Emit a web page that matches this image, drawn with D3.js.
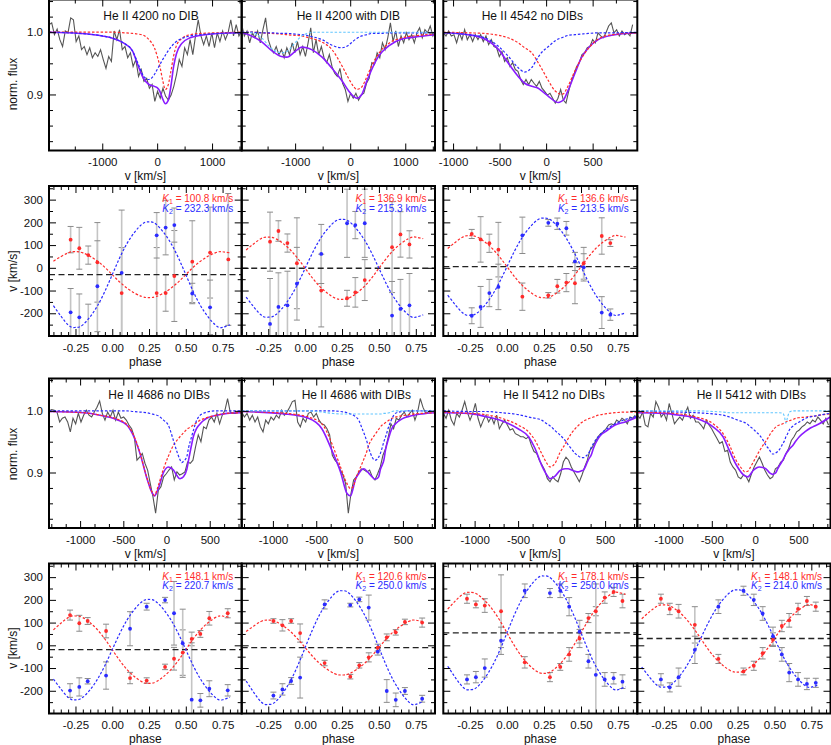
<!DOCTYPE html>
<html><head><meta charset="utf-8">
<script src="https://cdn.jsdelivr.net/npm/d3@7"></script>
<style>body{margin:0;background:#fff}</style>
</head><body>
<svg id="c" width="831" height="745"></svg>
<script>
// ---------------- DATA ----------------
// Spectrum panels: observed normalised flux (evenly sampled between the given velocity limits)
const obs4200a_range = [-1970, 1539];
const obs4200a = [1.012,1.015,0.996,1.005,0.988,0.977,1.002,0.999,1.023,1.020,0.985,0.994,0.972,0.977,0.964,0.975,0.959,0.967,0.961,0.972,0.956,0.942,0.961,0.953,1.002,0.988,1.004,0.972,0.977,0.959,0.967,0.945,0.956,0.929,0.940,0.921,0.926,0.910,0.916,0.889,0.905,0.894,0.910,0.897,0.891,0.899,0.913,0.932,0.956,0.945,0.975,0.964,0.988,0.964,0.994,1.020,0.994,0.980,0.994,0.977,0.999,0.975,0.999,0.985,1.002,0.988,0.999,1.020,0.994,1.012,0.994,1.002];
const obs4200b_range = [-1970, 1550];
const obs4200b = [1.012,0.994,1.002,0.983,0.999,0.991,1.002,0.983,1.004,1.023,0.988,0.975,0.967,0.977,0.964,0.972,0.959,0.975,0.964,0.983,0.967,0.985,0.964,0.977,0.961,0.983,1.007,0.967,0.988,0.964,0.977,0.959,0.951,0.964,0.945,0.934,0.929,0.942,0.918,0.908,0.889,0.902,0.894,0.902,0.891,0.899,0.902,0.918,0.926,0.951,0.948,0.967,0.959,0.983,0.972,0.991,1.015,0.985,1.002,0.977,0.994,0.983,0.999,0.988,0.996,0.983,0.999,1.007,0.991,1.004,0.999,1.010,0.994,1.002];
const obs4542_range = [-1105, 930];
const obs4542 = [0.999,0.994,1.002,0.994,0.996,0.983,0.999,0.988,1.004,0.988,0.996,0.985,0.996,0.988,0.996,0.985,0.994,0.980,0.988,0.977,0.975,0.961,0.969,0.953,0.959,0.945,0.951,0.940,0.937,0.924,0.916,0.924,0.916,0.924,0.918,0.913,0.921,0.910,0.905,0.899,0.902,0.894,0.886,0.894,0.908,0.891,0.886,0.905,0.921,0.932,0.945,0.951,0.964,0.967,0.975,0.977,0.988,0.983,0.999,0.994,0.991,0.999,1.010,1.015,0.999,1.004,0.994,1.002,0.996,0.999,0.994,1.012];
const obs4686a_range = [-1360, 830];
const obs4686a = [1.000,1.002,1.001,0.998,0.982,0.988,0.990,0.982,0.966,0.988,0.979,0.996,0.982,0.993,1.001,0.993,0.990,0.998,1.006,1.016,0.996,0.985,0.998,0.990,1.001,0.985,0.998,0.988,0.990,0.985,0.977,0.971,0.958,0.920,0.925,0.931,0.915,0.904,0.882,0.861,0.834,0.871,0.877,0.893,0.898,0.904,0.909,0.888,0.901,0.896,0.898,0.901,0.917,0.915,0.920,0.942,0.961,0.950,0.974,0.971,0.985,0.990,0.982,0.996,0.979,0.993,1.001,1.020,0.998,0.996,0.996,0.998];
const obs4686b_range = [-1360, 823];
const obs4686b = [0.998,0.990,0.996,0.985,0.993,0.982,0.990,0.974,0.966,0.985,0.979,0.990,0.985,0.993,0.988,1.001,0.993,0.998,1.006,1.015,1.017,0.982,0.974,0.988,0.982,0.996,0.998,0.990,0.996,0.985,0.979,0.977,0.971,0.961,0.928,0.920,0.915,0.904,0.896,0.882,0.834,0.866,0.888,0.893,0.901,0.906,0.904,0.901,0.904,0.893,0.888,0.898,0.909,0.928,0.939,0.958,0.979,0.971,0.988,0.985,0.993,0.998,0.990,0.996,1.001,0.985,0.998,1.020,1.006,0.996,0.998,1.001];
const obs5412a_range = [-1359, 847];
const obs5412a = [0.996,0.988,1.001,0.985,0.977,0.996,0.990,1.001,1.015,0.998,0.985,0.996,1.012,0.988,0.974,0.985,0.993,0.982,0.990,0.979,0.993,0.971,0.979,0.985,0.977,0.969,0.971,0.963,0.961,0.958,0.958,0.955,0.958,0.944,0.934,0.931,0.920,0.912,0.904,0.890,0.885,0.893,0.888,0.885,0.898,0.917,0.925,0.920,0.909,0.901,0.893,0.885,0.896,0.909,0.920,0.936,0.942,0.950,0.958,0.963,0.966,0.971,0.977,0.979,0.977,0.985,0.982,0.988,0.985,0.979,0.990,0.988,0.993];
const obs5412b_range = [-1360, 847];
const obs5412b = [0.993,0.988,0.998,0.977,0.974,0.996,0.990,1.015,1.006,0.990,0.996,0.985,1.012,0.996,0.979,0.985,0.990,0.985,0.996,1.006,0.988,0.993,0.982,0.982,0.977,0.971,0.985,0.977,0.971,0.963,0.955,0.947,0.950,0.934,0.936,0.917,0.909,0.904,0.893,0.890,0.896,0.893,0.885,0.898,0.909,0.917,0.925,0.915,0.904,0.896,0.890,0.893,0.906,0.909,0.917,0.920,0.931,0.939,0.952,0.958,0.966,0.969,0.974,0.977,0.982,0.979,0.985,0.982,0.990,0.985,0.979,0.988,0.977];

// Spectrum panels: model components (velocity samples, primary, secondary, DIB, total)
const mod4200a_v    = [-1970,-1400,-1000,-800,-600,-450,-350,-250,-150,-50,0,50,100,150,200,250,300,350,450,600,800,1100,1540];
const mod4200a_red  = [1.0,1.0,1.0,1.0,0.999,0.998,0.997,0.995,0.988,0.975,0.962,0.945,0.923,0.908,0.915,0.937,0.962,0.978,0.99,0.996,0.998,0.999,1.0];
const mod4200a_blue = [1.0,0.998,0.994,0.99,0.982,0.97,0.95,0.93,0.924,0.932,0.94,0.948,0.956,0.963,0.97,0.976,0.981,0.985,0.99,0.994,0.996,0.998,0.999];
const mod4200a_sum  = [1.0,0.998,0.994,0.99,0.982,0.97,0.947,0.926,0.916,0.913,0.911,0.905,0.893,0.885,0.89,0.913,0.945,0.965,0.982,0.991,0.995,0.998,0.999];

const mod4200b_v    = [-1970,-1790,-1600,-1420,-1250,-1150,-1000,-880,-790,-700,-510,-330,-150,-30,60,120,210,300,400,520,700,940,1250,1540];
const mod4200b_red  = [1.0,1.0,0.999,0.998,0.997,0.996,0.995,0.994,0.992,0.99,0.984,0.972,0.946,0.926,0.913,0.908,0.912,0.928,0.948,0.966,0.982,0.991,0.995,0.997];
const mod4200b_blue = [1.0,1.0,0.999,0.999,0.998,0.998,0.997,0.996,0.995,0.993,0.988,0.979,0.975,0.979,0.986,0.99,0.994,0.996,0.998,0.998,0.999,0.999,0.999,0.999];
const mod4200b_dib  = [1.0,0.999,0.99,0.973,0.967,0.969,0.983,0.994,0.998,1.0,1.0,1.0,1.0,1.0,1.0,1.0,1.0,1.0,1.0,1.0,1.0,1.0,1.0,1.0];
const mod4200b_sum  = [0.999,0.994,0.984,0.97,0.961,0.96,0.969,0.976,0.975,0.972,0.96,0.942,0.922,0.906,0.897,0.894,0.9,0.921,0.942,0.962,0.978,0.989,0.993,0.996];

const mod4542_v    = [-1105,-840,-660,-510,-410,-300,-230,-155,-85,-50,25,95,130,165,185,240,310,380,455,560,705,980];
const mod4542_red  = [1.0,0.999,0.998,0.995,0.991,0.983,0.975,0.967,0.951,0.942,0.922,0.906,0.902,0.9,0.901,0.915,0.938,0.958,0.974,0.989,0.996,0.999];
const mod4542_blue = [0.999,0.996,0.991,0.977,0.962,0.943,0.936,0.943,0.96,0.967,0.977,0.986,0.989,0.991,0.992,0.995,0.996,0.997,0.998,0.999,0.999,1.0];
const mod4542_sum  = [0.999,0.996,0.989,0.972,0.951,0.929,0.918,0.913,0.91,0.906,0.897,0.889,0.887,0.889,0.891,0.908,0.934,0.959,0.975,0.988,0.995,0.999];

const mod4686a_v    = [-1360,-960,-770,-580,-460,-385,-305,-230,-170,-140,-95,-35,20,80,120,155,175,195,235,255,290,310,350,390,425,465,580,700,870];
const mod4686a_red  = [0.999,0.997,0.993,0.987,0.978,0.962,0.931,0.893,0.869,0.863,0.879,0.906,0.926,0.944,0.952,0.958,0.961,0.964,0.970,0.972,0.975,0.977,0.981,0.985,0.987,0.989,0.993,0.996,0.997];
const mod4686a_blue = [1.0,1.0,1.0,1.0,1.0,0.999,0.998,0.997,0.995,0.994,0.992,0.985,0.977,0.952,0.934,0.921,0.916,0.918,0.926,0.94,0.958,0.968,0.985,0.993,0.996,0.998,1.0,1.0,1.0];
const mod4686a_sum  = [0.999,0.997,0.993,0.986,0.977,0.96,0.93,0.892,0.868,0.862,0.874,0.9,0.909,0.904,0.895,0.89,0.891,0.893,0.905,0.92,0.945,0.958,0.972,0.979,0.984,0.988,0.993,0.996,0.997];

const mod4686b_v    = [-1360,-860,-590,-435,-320,-220,-145,-105,-70,-50,-10,30,50,85,105,145,175,185,220,240,260,280,300,340,360,375,415,490,570,720,877];
const mod4686b_red  = [0.999,0.996,0.99,0.979,0.947,0.909,0.882,0.874,0.878,0.888,0.902,0.915,0.922,0.935,0.944,0.955,0.961,0.963,0.97,0.974,0.977,0.979,0.981,0.985,0.987,0.988,0.99,0.992,0.994,0.996,0.997];
const mod4686b_blue = [1.0,1.0,1.0,1.0,1.0,0.999,0.997,0.995,0.993,0.991,0.985,0.971,0.964,0.95,0.94,0.925,0.92,0.92,0.925,0.931,0.94,0.95,0.958,0.976,0.983,0.988,0.996,0.999,1.0,1.0,1.0];
const mod4686b_dib  = [1.0,1.0,1.0,0.998,0.996,0.995,0.995,0.995,0.995,0.995,0.995,0.995,0.995,0.995,0.995,0.995,0.995,0.995,0.995,0.995,0.995,0.996,0.996,0.997,0.998,0.999,1.0,1.0,1.0,1.0,1.0];
const mod4686b_sum  = [0.999,0.995,0.988,0.971,0.936,0.901,0.866,0.862,0.877,0.888,0.898,0.905,0.906,0.902,0.899,0.893,0.889,0.889,0.893,0.905,0.912,0.92,0.937,0.958,0.967,0.972,0.979,0.987,0.991,0.995,0.997];

const mod5412a_v    = [-1359,-1070,-880,-690,-500,-380,-305,-230,-170,-135,-75,-20,40,75,115,155,190,230,250,290,305,345,365,420,460,500,615,730,870];
const mod5412a_red  = [0.998,0.996,0.994,0.988,0.977,0.966,0.952,0.931,0.915,0.909,0.915,0.932,0.946,0.955,0.964,0.971,0.976,0.981,0.983,0.986,0.987,0.989,0.99,0.993,0.994,0.995,0.997,0.998,0.998];
const mod5412a_blue = [1.0,0.999,0.999,0.997,0.994,0.99,0.988,0.985,0.979,0.976,0.968,0.961,0.952,0.945,0.938,0.931,0.927,0.924,0.924,0.928,0.93,0.942,0.947,0.958,0.964,0.969,0.979,0.986,0.991];
const mod5412a_sum  = [0.997,0.996,0.991,0.984,0.971,0.958,0.939,0.912,0.896,0.89,0.894,0.903,0.906,0.906,0.904,0.902,0.901,0.903,0.904,0.915,0.92,0.93,0.939,0.955,0.962,0.966,0.977,0.982,0.99];

const mod5412b_v    = [-1360,-1060,-870,-680,-485,-370,-295,-220,-140,-120,-85,-65,-25,10,50,90,125,165,185,205,220,240,260,280,320,340,355,375,395,435,470,510,585,625,665,740,866];
const mod5412b_red  = [0.998,0.997,0.995,0.99,0.979,0.963,0.944,0.92,0.904,0.901,0.902,0.906,0.916,0.925,0.935,0.944,0.951,0.96,0.965,0.968,0.971,0.974,0.976,0.977,0.979,0.981,0.982,0.983,0.984,0.986,0.988,0.989,0.99,0.991,0.991,0.993,0.995];
const mod5412b_blue = [1.0,0.999,0.998,0.997,0.995,0.993,0.99,0.986,0.982,0.981,0.978,0.975,0.971,0.966,0.961,0.953,0.944,0.937,0.932,0.93,0.93,0.932,0.934,0.937,0.947,0.952,0.958,0.963,0.969,0.975,0.979,0.982,0.988,0.99,0.991,0.993,0.996];
const mod5412b_dib  = [1.0,1.0,1.0,1.0,0.999,0.998,0.997,0.997,0.997,0.997,0.997,0.997,0.997,0.997,0.997,0.997,0.997,0.997,0.997,0.997,0.997,0.997,0.997,0.997,0.996,0.99,0.98,0.99,0.998,1.0,1.0,1.0,1.0,1.0,1.0,1.0,1.0];
const mod5412b_sum  = [0.997,0.996,0.993,0.988,0.974,0.958,0.935,0.913,0.897,0.895,0.893,0.895,0.903,0.907,0.909,0.908,0.906,0.9,0.898,0.897,0.898,0.9,0.906,0.911,0.92,0.926,0.93,0.934,0.938,0.944,0.951,0.958,0.967,0.971,0.974,0.979,0.99];

// Spectrum axis ticks
const specYMajor = [0.9, 1.0];
const specYMinor = [0.825, 0.85, 0.875, 0.925, 0.95, 0.975, 1.025, 1.05];
const tick4200Major = [-1000, 0, 1000];
const tick4200Minor = [-1500, -500, 500, 1500];
const tick4542Major = [-1000, -500, 0, 500];
const tick4542Minor = [-750, -250, 250, 750];
const tickRow3Major = [-1000, -500, 0, 500];
const tickRow3Minor = [-1333.3, -1166.7, -833.3, -666.7, -333.3, -166.7, 166.7, 333.3, 666.7, 833.3];

// RV panels
const rvPhaseMajor = [-0.25, 0, 0.25, 0.5, 0.75];
const rvPhaseMinor = [-0.4,-0.35,-0.3,-0.2,-0.15,-0.1,-0.05,0.05,0.1,0.15,0.2,0.3,0.35,0.4,0.45,0.55,0.6,0.65,0.7,0.8,0.85];
const rvVMajor = [-200, -100, 0, 100, 200, 300];
const rvVMinor = [-250, -150, -50, 50, 150, 250, 350];
const fitPhase = [-0.4,-0.3,-0.25,-0.2,-0.1,0,0.1,0.2,0.25,0.3,0.4,0.5,0.6,0.7,0.75,0.8];

// He II 4200 no DIB
const rv1_K = [100.8, 232.3], rv1_gamma = -30;
const rv1_fitRed  = [29.3,65.9,70.8,65.9,29.3,-30,-89.3,-125.9,-130.8,-125.9,-89.3,-30,29.3,65.9,70.8,65.9];
const rv1_fitBlue = [-166.6,-250.9,-262.3,-250.9,-166.6,-30,106.6,190.9,202.3,190.9,106.6,-30,-166.6,-250.9,-262.3,-250.9];
const rv1_phase   = [-0.283,-0.224,-0.163,-0.101,0.064,0.302,0.363,0.422,0.544,0.665,0.789];
const rv1_red     = [124,86,56,24,-111,-111,-111,-36,27,67,37];
const rv1_redErr  = [58,92,40,175,200,200,80,200,180,200,290];
const rv1_blue    = [-196,-218,-330,-81,-22,143,177,188,-113,-174,null];
const rv1_blueErr = [105,103,170,200,276,100,120,75,45,120,0];
// He II 4200 with DIB
const rv2_K = [136.9, 215.3], rv2_gamma = -2;
const rv2_fitRed  = [78.5,128.2,134.9,128.2,78.5,-2,-82.5,-132.2,-138.9,-132.2,-82.5,-2,78.5,128.2,134.9,128.2];
const rv2_fitBlue = [-128.6,-206.8,-217.3,-206.8,-128.6,-2,124.6,202.8,213.3,202.8,124.6,-2,-128.6,-206.8,-217.3,-206.8];
const rv2_phase   = [-0.238,-0.181,-0.12,-0.056,0.109,0.284,0.34,0.404,0.589,0.646,0.707];
const rv2_red     = [115,162,109,20,-100,-134,-108,-54,91,147,103];
const rv2_redErr  = [130,45,40,200,160,35,65,90,200,100,60];
const rv2_blue    = [-247,-172,-165,-70,61,196,188,196,-210,-181,-165];
const rv2_blueErr = [200,150,150,160,130,150,60,150,150,130,140];
// He II 4542 no DIBs
const rv3_K = [136.6, 213.5], rv3_gamma = 5;
const rv3_fitRed  = [85.3,134.9,141.6,134.9,85.3,5,-75.3,-124.9,-131.6,-124.9,-75.3,5,85.3,134.9,141.6,134.9];
const rv3_fitBlue = [-120.5,-198,-208.5,-198,-120.5,5,130.5,208,218.5,208,130.5,5,-120.5,-198,-208.5,-198];
const rv3_phase   = [-0.238,-0.178,-0.119,-0.058,0.104,0.279,0.34,0.401,0.459,0.518,0.64,0.698];
const rv3_red     = [149,125,108,80,-127,-121,-81,-65,-68,20,140,109];
const rv3_redErr  = [20,100,40,120,60,12,30,40,90,70,80,15];
const rv3_blue    = [-211,-172,-111,-84,143,198,194,174,28,2,-197,-206];
const rv3_blueErr = [35,90,60,100,80,15,25,30,40,60,70,25];
// He II 4686 no DIBs
const rv4_K = [148.1, 220.7], rv4_gamma = -19;
const rv4_fitRed  = [68.1,121.8,129.1,121.8,68.1,-19,-106.1,-159.8,-167.1,-159.8,-106.1,-19,68.1,121.8,129.1,121.8];
const rv4_fitBlue = [-148.8,-228.9,-239.7,-228.9,-148.8,-19,110.8,190.9,201.7,190.9,110.8,-19,-148.8,-228.9,-239.7,-228.9];
const rv4_phase   = [-0.287,-0.224,-0.167,-0.042,0.121,0.234,0.359,0.42,0.479,0.54,0.599,0.66,0.785];
const rv4_red     = [133,97,107,63,-144,-155,-95,-59,-32,28,50,119,141];
const rv4_redErr  = [22,35,15,30,25,12,12,50,100,30,15,30,20];
const rv4_blue    = [-199,-183,-158,-133,73,170,199,141,9,-239,-242,-191,-198];
const rv4_blueErr = [30,40,12,60,75,15,12,140,150,250,30,35,25];
// He II 4686 with DIBs
const rv5_K = [120.6, 250.0], rv5_gamma = -10;
const rv5_fitRed  = [60.9,104.7,110.6,104.7,60.9,-10,-80.9,-124.7,-130.6,-124.7,-80.9,-10,60.9,104.7,110.6,104.7];
const rv5_fitBlue = [-157,-247.8,-260,-247.8,-157,-10,137,227.8,240,227.8,137,-10,-157,-247.8,-260,-247.8];
const rv5_phase   = [-0.215,-0.154,-0.095,-0.034,0.132,0.306,0.367,0.431,0.492,0.553,0.614,0.676,0.793];
const rv5_red     = [107,88,107,54,-78,-138,-88,-53,-10,35,57,103,100];
const rv5_redErr  = [10,25,10,40,12,10,12,20,15,15,12,12,20];
const rv5_blue    = [-221,-194,-157,-142,180,177,202,166,-28,-201,-240,-201,-235];
const rv5_blueErr = [15,25,15,90,20,8,10,55,15,50,30,15,15];
// He II 5412 no DIBs
const rv6_K = [178.1, 250.0], rv6_gamma = 55;
const rv6_fitRed  = [159.7,224.4,233.1,224.4,159.7,55,-49.7,-114.4,-123.1,-114.4,-49.7,55,159.7,224.4,233.1,224.4];
const rv6_fitBlue = [-92,-182.8,-195,-182.8,-92,55,202,292.8,305,292.8,202,55,-92,-182.8,-195,-182.8];
const rv6_phase   = [-0.27,-0.21,-0.15,-0.04,0.12,0.29,0.36,0.42,0.49,0.55,0.6,0.66,0.72,0.78];
const rv6_red     = [205,180,175,150,-75,-140,-95,-40,30,120,150,210,235,195];
const rv6_redErr  = [20,15,30,160,25,20,15,30,40,20,20,25,20,30];
const rv6_blue    = [-150,-140,-100,20,240,230,240,170,60,-70,-130,-150,-145,-160];
const rv6_blueErr = [20,25,40,60,30,20,30,40,50,30,400,30,25,30];
// He II 5412 with DIBs
const rv7_K = [148.1, 214.0], rv7_gamma = 30;
const rv7_fitRed  = [117.1,170.8,178.1,170.8,117.1,30,-57.1,-110.8,-118.1,-110.8,-57.1,30,117.1,170.8,178.1,170.8];
const rv7_fitBlue = [-95.8,-173.5,-184,-173.5,-95.8,30,155.8,233.5,244,233.5,155.8,30,-95.8,-173.5,-184,-173.5];
const rv7_phase   = [-0.27,-0.21,-0.15,-0.04,0.12,0.29,0.36,0.42,0.49,0.55,0.6,0.66,0.72,0.78];
const rv7_red     = [205,160,150,90,-60,-115,-90,-35,25,85,110,160,195,170];
const rv7_redErr  = [20,25,30,80,20,15,20,25,30,25,30,25,20,20];
const rv7_blue    = [-150,-185,-140,-20,170,240,200,140,40,-40,-120,-150,-170,-165];
const rv7_blueErr = [25,20,40,60,30,20,25,30,40,30,40,30,25,20];

// ---------------- LAYOUT / STYLE ----------------
const FONT = '"Liberation Sans", Arial, Helvetica, sans-serif';
const COLS = [[49,241.7],[241.7,435],[443.3,637.3],[637.3,830.5]];
const ROWS = {s1:[-0.5,150.5], r1:[186,336], s2:[378.5,528], r2:[563.5,713.5]};
const RED = '#ff2b2b', BLUE = '#2b2bff', PURPLE = '#8a1cff', OBS = '#555555', CYAN = '#62c6ff';
const specYDomain = [0.81, 1.0525];
const rvXDomain = [-0.43, 0.88], rvYDomain = [-300, 360];

const svg = d3.select('#c');
const defs = svg.append('defs');
let cidN = 0;
function clip(x0,y0,x1,y1){
  const id = 'cp'+(cidN++);
  defs.append('clipPath').attr('id',id).append('rect').attr('x',x0).attr('y',y0).attr('width',x1-x0).attr('height',y1-y0);
  return id;
}

function axes(x, y, box, o){
  const [x0,y0,x1,y1] = box;
  const g = svg.append('g');
  const none = () => '';
  const add = (gen, tr) => {
    const a = g.append('g').attr('transform', tr).call(gen);
    a.select('.domain').remove();
    a.selectAll('line').attr('stroke','#000').attr('stroke-width',1);
    a.selectAll('text').attr('font-size',11.5).attr('fill','#111').attr('font-family',FONT);
    return a;
  };
  add(d3.axisBottom(x).tickValues(o.xMaj).tickSize(-7).tickPadding(7.5).tickFormat(o.xFmt), `translate(0,${y1})`);
  add(d3.axisBottom(x).tickValues(o.xMin).tickSize(-4).tickFormat(none), `translate(0,${y1})`);
  add(d3.axisTop(x).tickValues(o.xMaj).tickSize(-7).tickFormat(none), `translate(0,${y0})`);
  add(d3.axisTop(x).tickValues(o.xMin).tickSize(-4).tickFormat(none), `translate(0,${y0})`);
  add(d3.axisLeft(y).tickValues(o.yMaj).tickSize(-7).tickPadding(6).tickFormat(o.showY ? o.yFmt : none), `translate(${x0},0)`);
  add(d3.axisLeft(y).tickValues(o.yMin).tickSize(-4).tickFormat(none), `translate(${x0},0)`);
  add(d3.axisRight(y).tickValues(o.yMaj).tickSize(-7).tickFormat(none), `translate(${x1},0)`);
  add(d3.axisRight(y).tickValues(o.yMin).tickSize(-4).tickFormat(none), `translate(${x1},0)`);
  svg.append('rect').attr('x',x0).attr('y',y0).attr('width',x1-x0).attr('height',y1-y0)
    .attr('fill','none').attr('stroke','#000').attr('stroke-width',2);
  svg.append('text').attr('x',(x0+x1)/2).attr('y',y1+29.5).attr('text-anchor','middle')
    .attr('font-size',12).attr('font-family',FONT).attr('fill','#111').text(o.xTitle);
  if (o.showY) {
    svg.append('text').attr('transform',`translate(17,${o.yTitleY}) rotate(-90)`).attr('text-anchor','middle')
      .attr('font-size',12).attr('font-family',FONT).attr('fill','#111').text(o.yTitle);
  }
}

function spectrum(p){
  const [x0,x1] = COLS[p.col], [y0,y1] = ROWS[p.row];
  const x = d3.scaleLinear().domain(p.xd).range([x0,x1]);
  const y = d3.scaleLinear().domain(specYDomain).range([y1,y0]);
  const g = svg.append('g').attr('clip-path',`url(#${clip(x0,y0,x1,y1)})`);
  const vs = d3.scaleLinear().domain([0,p.obs.length-1]).range(p.obsRange);
  g.append('path').attr('d', d3.line().x((d,i)=>x(vs(i))).y(d=>y(d))(p.obs))
    .attr('fill','none').attr('stroke',OBS).attr('stroke-width',1.1);
  const ml = d3.line().curve(d3.curveMonotoneX).x(d=>x(d[0])).y(d=>y(d[1]));
  const pairs = arr => p.mv.map((v,i)=>[v,arr[i]]);
  g.append('path').attr('d', ml(pairs(p.sum))).attr('fill','none').attr('stroke',PURPLE).attr('stroke-width',1.6);
  g.append('path').attr('d', ml(pairs(p.red))).attr('fill','none').attr('stroke',RED).attr('stroke-width',1.2).attr('stroke-dasharray','2.5,1.8');
  g.append('path').attr('d', ml(pairs(p.blue))).attr('fill','none').attr('stroke',BLUE).attr('stroke-width',1.2).attr('stroke-dasharray','2.5,1.8');
  if (p.dib) g.append('path').attr('d', ml(pairs(p.dib))).attr('fill','none').attr('stroke',CYAN).attr('stroke-width',1.1).attr('stroke-dasharray','2.5,1.8');
  axes(x, y, [x0,y0,x1,y1], {xMaj:p.xMaj, xMin:p.xMin, yMaj:specYMajor, yMin:specYMinor,
    xFmt:d=>String(d), yFmt:d=>d.toFixed(1), showY:p.col===0, xTitle:'v [km/s]', yTitle:'norm. flux', yTitleY:p.yTitleY});
  svg.append('text').attr('x',p.tx).attr('y',Math.max(y0,0)+20).attr('font-size',12).attr('font-family',FONT).attr('fill','#111').text(p.title);
}

function rvPanel(p){
  const [x0,x1] = COLS[p.col], [y0,y1] = ROWS[p.row];
  const x = d3.scaleLinear().domain(rvXDomain).range([x0,x1]);
  const y = d3.scaleLinear().domain(rvYDomain).range([y1,y0]);
  const g = svg.append('g').attr('clip-path',`url(#${clip(x0,y0,x1,y1)})`);
  const eb = (vals, errs) => p.phase.forEach((ph,i)=>{
    if (vals[i]===null || !errs[i]) return;
    const xx = x(ph), ya = y(vals[i]+errs[i]), yb = y(vals[i]-errs[i]);
    g.append('line').attr('x1',xx).attr('x2',xx).attr('y1',ya).attr('y2',yb).attr('stroke','#c4c4c4').attr('stroke-width',1.6);
    [ya,yb].forEach(yy=>g.append('line').attr('x1',xx-3).attr('x2',xx+3).attr('y1',yy).attr('y2',yy).attr('stroke','#8a8a8a').attr('stroke-width',1));
  });
  eb(p.red, p.redErr); eb(p.blue, p.blueErr);
  g.append('line').attr('x1',x0).attr('x2',x1).attr('y1',y(p.gamma)).attr('y2',y(p.gamma))
    .attr('stroke','#222').attr('stroke-width',1.3).attr('stroke-dasharray','6,3.5');
  const cl = d3.line().curve(d3.curveNatural).x((d,i)=>x(fitPhase[i])).y(d=>y(d));
  g.append('path').attr('d', cl(p.fitRed)).attr('fill','none').attr('stroke',RED).attr('stroke-width',1.2).attr('stroke-dasharray','2.5,1.8');
  g.append('path').attr('d', cl(p.fitBlue)).attr('fill','none').attr('stroke',BLUE).attr('stroke-width',1.2).attr('stroke-dasharray','2.5,1.8');
  const pts = (vals, col) => p.phase.forEach((ph,i)=>{
    if (vals[i]===null) return;
    g.append('circle').attr('cx',x(ph)).attr('cy',y(vals[i])).attr('r',1.9).attr('fill',col);
  });
  pts(p.red, RED); pts(p.blue, BLUE);
  axes(x, y, [x0,y0,x1,y1], {xMaj:rvPhaseMajor, xMin:rvPhaseMinor, yMaj:rvVMajor, yMin:rvVMinor,
    xFmt:d=>d.toFixed(2), yFmt:d=>String(d), showY:p.col===0, xTitle:'phase', yTitle:'v [km/s]', yTitleY:p.yTitleY});
  const kl = (k, sub, val, col, yy) => {
    const t = svg.append('text').attr('x',x1-8.5).attr('y',yy).attr('text-anchor','end')
      .attr('font-size',10).attr('font-family',FONT).attr('fill',col);
    t.append('tspan').attr('font-style','italic').text(k);
    t.append('tspan').attr('font-size',7).attr('dy',2.2).text(sub);
    t.append('tspan').attr('dy',-2.2).text(' = ' + val.toFixed(1) + ' km/s');
  };
  kl('K','1',p.K[0],RED,y0+16);
  kl('K','2',p.K[1],BLUE,y0+25.5);
}

// ---------------- DRAW ----------------
spectrum({col:0,row:'s1',title:'He II 4200 no DIB',tx:103.3,xd:[-1970,1540],xMaj:tick4200Major,xMin:tick4200Minor,
  obs:obs4200a,obsRange:obs4200a_range,mv:mod4200a_v,red:mod4200a_red,blue:mod4200a_blue,sum:mod4200a_sum,yTitleY:84});
spectrum({col:1,row:'s1',title:'He II 4200 with DIB',tx:296.7,xd:[-1970,1540],xMaj:tick4200Major,xMin:tick4200Minor,
  obs:obs4200b,obsRange:obs4200b_range,mv:mod4200b_v,red:mod4200b_red,blue:mod4200b_blue,dib:mod4200b_dib,sum:mod4200b_sum});
spectrum({col:2,row:'s1',title:'He II 4542 no DIBs',tx:481.7,xd:[-1105,980],xMaj:tick4542Major,xMin:tick4542Minor,
  obs:obs4542,obsRange:obs4542_range,mv:mod4542_v,red:mod4542_red,blue:mod4542_blue,sum:mod4542_sum});
spectrum({col:0,row:'s2',title:'He II 4686 no DIBs',tx:108.3,xd:[-1360,870],xMaj:tickRow3Major,xMin:tickRow3Minor,
  obs:obs4686a,obsRange:obs4686a_range,mv:mod4686a_v,red:mod4686a_red,blue:mod4686a_blue,sum:mod4686a_sum,yTitleY:454});
spectrum({col:1,row:'s2',title:'He II 4686 with DIBs',tx:301.7,xd:[-1360,870],xMaj:tickRow3Major,xMin:tickRow3Minor,
  obs:obs4686b,obsRange:obs4686b_range,mv:mod4686b_v,red:mod4686b_red,blue:mod4686b_blue,dib:mod4686b_dib,sum:mod4686b_sum});
spectrum({col:2,row:'s2',title:'He II 5412 no DIBs',tx:503.3,xd:[-1360,870],xMaj:tickRow3Major,xMin:tickRow3Minor,
  obs:obs5412a,obsRange:obs5412a_range,mv:mod5412a_v,red:mod5412a_red,blue:mod5412a_blue,sum:mod5412a_sum});
spectrum({col:3,row:'s2',title:'He II 5412 with DIBs',tx:696.7,xd:[-1360,870],xMaj:tickRow3Major,xMin:tickRow3Minor,
  obs:obs5412b,obsRange:obs5412b_range,mv:mod5412b_v,red:mod5412b_red,blue:mod5412b_blue,dib:mod5412b_dib,sum:mod5412b_sum});

rvPanel({col:0,row:'r1',K:rv1_K,gamma:rv1_gamma,fitRed:rv1_fitRed,fitBlue:rv1_fitBlue,phase:rv1_phase,red:rv1_red,redErr:rv1_redErr,blue:rv1_blue,blueErr:rv1_blueErr,yTitleY:271});
rvPanel({col:1,row:'r1',K:rv2_K,gamma:rv2_gamma,fitRed:rv2_fitRed,fitBlue:rv2_fitBlue,phase:rv2_phase,red:rv2_red,redErr:rv2_redErr,blue:rv2_blue,blueErr:rv2_blueErr});
rvPanel({col:2,row:'r1',K:rv3_K,gamma:rv3_gamma,fitRed:rv3_fitRed,fitBlue:rv3_fitBlue,phase:rv3_phase,red:rv3_red,redErr:rv3_redErr,blue:rv3_blue,blueErr:rv3_blueErr});
rvPanel({col:0,row:'r2',K:rv4_K,gamma:rv4_gamma,fitRed:rv4_fitRed,fitBlue:rv4_fitBlue,phase:rv4_phase,red:rv4_red,redErr:rv4_redErr,blue:rv4_blue,blueErr:rv4_blueErr,yTitleY:648});
rvPanel({col:1,row:'r2',K:rv5_K,gamma:rv5_gamma,fitRed:rv5_fitRed,fitBlue:rv5_fitBlue,phase:rv5_phase,red:rv5_red,redErr:rv5_redErr,blue:rv5_blue,blueErr:rv5_blueErr});
rvPanel({col:2,row:'r2',K:rv6_K,gamma:rv6_gamma,fitRed:rv6_fitRed,fitBlue:rv6_fitBlue,phase:rv6_phase,red:rv6_red,redErr:rv6_redErr,blue:rv6_blue,blueErr:rv6_blueErr});
rvPanel({col:3,row:'r2',K:rv7_K,gamma:rv7_gamma,fitRed:rv7_fitRed,fitBlue:rv7_fitBlue,phase:rv7_phase,red:rv7_red,redErr:rv7_redErr,blue:rv7_blue,blueErr:rv7_blueErr});
</script>
</body></html>
